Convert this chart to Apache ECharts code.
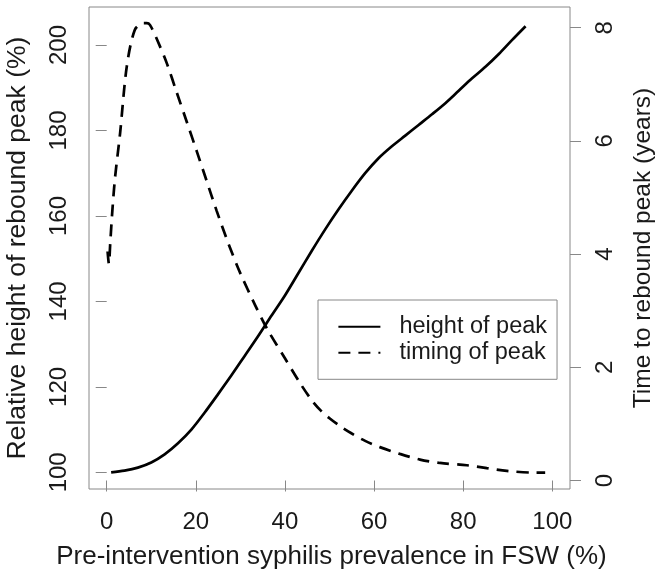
<!DOCTYPE html>
<html><head><meta charset="utf-8">
<script src="https://cdn.jsdelivr.net/npm/echarts@6/dist/echarts.min.js"></script>
<style>html,body{margin:0;padding:0;background:#fff}#c{width:664px;height:583px}</style>
</head><body><div id="c"></div>
<script>
// Relative height of rebound peak (%) vs prevalence
const heightX = [1, 4, 7, 10, 13, 16, 19, 22, 25, 28, 31, 34, 37, 40, 43, 46, 49, 52, 55, 58, 61, 64, 67, 70, 73, 76, 79, 82, 85, 88, 91, 94];
const heightY = [100.0, 100.4, 101.1, 102.3, 104.2, 106.8, 110.0, 114.0, 118.3, 122.7, 127.3, 131.9, 136.7, 141.4, 146.6, 151.8, 156.8, 161.5, 165.9, 170.0, 173.5, 176.3, 178.8, 181.3, 183.8, 186.4, 189.3, 192.2, 194.9, 197.9, 201.2, 204.4];
// Time to rebound peak (years) vs prevalence
const timingX = [0.2, 0.5, 0.8, 1.3, 1.9, 3.0, 4.5, 6.3, 8.2, 9.0, 9.7, 11.2, 13.5, 15.7, 18.0, 20.2, 22.4, 24.7, 27.3, 30.0, 33.3, 36.0, 40.0, 43.4, 46.0, 48.0, 50.0, 52.4, 55.0, 58.0, 61.3, 65.8, 70.3, 74.8, 80.8, 85.3, 89.8, 95.7, 98.4];
const timingY = [4.05, 3.83, 4.2, 4.8, 5.37, 6.13, 7.31, 7.96, 8.08, 8.08, 8.05, 7.81, 7.37, 6.86, 6.33, 5.82, 5.30, 4.76, 4.19, 3.66, 3.10, 2.68, 2.16, 1.72, 1.42, 1.24, 1.10, 0.96, 0.83, 0.70, 0.59, 0.47, 0.37, 0.31, 0.27, 0.22, 0.17, 0.14, 0.14];
const xTicks = [0, 20, 40, 60, 80, 100];
const leftTicks = [100, 120, 140, 160, 180, 200];
const rightTicks = [0, 2, 4, 6, 8];
const seriesNames = ['height of peak', 'timing of peak'];

const FONT = "'Liberation Sans', Arial, sans-serif";
const TXT = '#1a1a1a';
const GRAY = '#888888';

const chart = echarts.init(document.getElementById('c'), null, {renderer: 'canvas'});
chart.setOption({
  animation: false,
  backgroundColor: '#ffffff',
  textStyle: {fontFamily: FONT},
  grid: {left: 89, top: 7, right: 94, bottom: 94, containLabel: false, outerBoundsMode: 'none',
         show: true, borderColor: GRAY, borderWidth: 1, backgroundColor: 'transparent'},
  legend: {
    left: 318, top: 300, orient: 'vertical',
    padding: [13.7, 10, 13.6, 19.4],
    itemWidth: 42, itemHeight: 14, itemGap: 0,
    borderColor: GRAY, borderWidth: 1,
    itemStyle: {color: 'transparent', borderColor: 'transparent', borderWidth: 0, opacity: 0},
    textStyle: {fontFamily: FONT, fontSize: 23.5, lineHeight: 26, color: TXT, padding: [0, 0, 0, 14]},
    data: seriesNames
  },
  xAxis: {
    type: 'value', min: -3.97, max: 103.97,
    axisLine: {show: false},
    splitLine: {show: false},
    axisTick: {show: true, length: 11, lineStyle: {color: GRAY, width: 1}, customValues: xTicks},
    axisLabel: {fontFamily: FONT, fontSize: 24, lineHeight: 24, color: TXT, margin: 21, customValues: xTicks},
    name: 'Pre-intervention syphilis prevalence in FSW (%)',
    nameLocation: 'middle', nameGap: 55,
    nameTextStyle: {fontFamily: FONT, fontSize: 26, lineHeight: 26, color: TXT, padding: [0, 0, 0, 4]}
  },
  yAxis: [{
    type: 'value', position: 'left', min: 96.1, max: 208.9,
    axisLine: {show: false},
    splitLine: {show: false},
    axisTick: {show: true, length: 11, lineStyle: {color: GRAY, width: 1}, customValues: leftTicks},
    axisLabel: {fontFamily: FONT, fontSize: 24, lineHeight: 24, color: TXT, margin: 18, rotate: 90, customValues: leftTicks},
    name: 'Relative height of rebound peak (%)',
    nameLocation: 'middle', nameGap: 58,
    nameTextStyle: {fontFamily: FONT, fontSize: 26.5, lineHeight: 26, color: TXT}
  }, {
    type: 'value', position: 'right', min: -0.15, max: 8.366,
    axisLine: {show: false},
    splitLine: {show: false},
    axisTick: {show: true, length: 11, lineStyle: {color: GRAY, width: 1}, customValues: rightTicks},
    axisLabel: {fontFamily: FONT, fontSize: 24, lineHeight: 24, color: TXT, margin: 23, rotate: 90, customValues: rightTicks},
    name: 'Time to rebound peak (years)',
    nameLocation: 'middle', nameGap: 61,
    nameTextStyle: {fontFamily: FONT, fontSize: 24.5, lineHeight: 24.5, color: TXT}
  }],
  series: [{
    name: seriesNames[0], type: 'line', yAxisIndex: 0,
    data: heightX.map((x, i) => [x, heightY[i]]),
    symbol: 'none', smooth: 0.3,
    lineStyle: {color: '#000', width: 2.7, type: 'solid'},
    itemStyle: {color: '#000'}
  }, {
    name: seriesNames[1], type: 'line', yAxisIndex: 1,
    data: timingX.map((x, i) => [x, timingY[i]]),
    symbol: 'none', smooth: 0.3,
    lineStyle: {color: '#000', width: 2.7, type: [12, 8]},
    itemStyle: {color: '#000'}
  }]
});
</script>
</body></html>
